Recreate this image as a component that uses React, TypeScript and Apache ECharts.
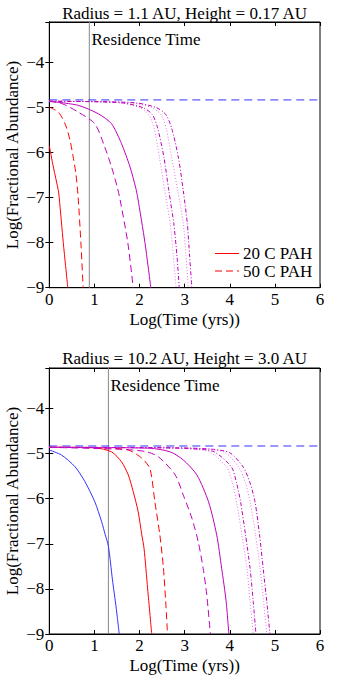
import React, { useEffect, useRef } from 'react';
import * as echarts from 'echarts';

// ---------- data ----------
const titles = ['Radius = 1.1 AU, Height = 0.17 AU', 'Radius = 10.2 AU, Height = 3.0 AU'];
const xLabel = 'Log(Time (yrs))';
const yLabel = 'Log(Fractional Abundance)';
const xRange = [0, 6];
const yRange = [-9, -3.1];
const residenceTime = [0.887, 1.31];
const initialAbundance = -4.83;
const legendNames = ['20 C PAH', '50 C PAH'];

// Panel 1: Radius = 1.1 AU
const p1RedSolid = [[0, -5.85], [0.09, -6.32], [0.2, -6.84], [0.22, -7], [0.31, -8], [0.41, -9]];
const p1RedDash = [[0, -4.99], [0.2, -5.1], [0.35, -5.36], [0.46, -5.73], [0.53, -6.1], [0.59, -6.47], [0.64, -7], [0.7, -8], [0.75, -9]];
const p1MagDash = [[0, -4.86], [0.3, -4.92], [0.64, -5.1], [1.01, -5.36], [1.23, -5.88], [1.38, -6.32], [1.51, -6.78], [1.57, -7.05], [1.74, -8], [1.86, -9]];
const p1MagSolid = [[0, -4.86], [0.64, -4.95], [1.09, -5.14], [1.38, -5.36], [1.6, -5.8], [1.79, -6.32], [1.92, -6.8], [1.96, -7], [2.12, -8], [2.25, -9]];
const p1DotA = [[0, -4.86], [1.0, -4.87], [1.6, -4.9], [2.0, -5.0], [2.2, -5.15], [2.32, -5.45], [2.44, -6.1], [2.56, -6.85], [2.68, -7.58], [2.75, -8.3], [2.81, -9]];
const p1DashDotB = [[0, -4.86], [1.0, -4.87], [1.65, -4.9], [2.07, -5.0], [2.28, -5.15], [2.4, -5.45], [2.54, -6.1], [2.65, -6.85], [2.76, -7.58], [2.83, -8.3], [2.88, -9]];
const p1DotC = [[0, -4.86], [1.2, -4.87], [1.85, -4.9], [2.27, -5.0], [2.47, -5.15], [2.59, -5.45], [2.71, -6.1], [2.85, -6.85], [2.97, -7.58], [3.03, -8.3], [3.08, -9]];
const p1DashDotD = [[0, -4.86], [1.2, -4.87], [1.95, -4.9], [2.37, -5.0], [2.58, -5.15], [2.71, -5.45], [2.86, -6.1], [2.97, -6.85], [3.06, -7.58], [3.11, -8.3], [3.16, -9]];

// Panel 2: Radius = 10.2 AU
const p2Blue = [[0, -4.92], [0.27, -5.03], [0.57, -5.29], [0.79, -5.62], [1.01, -6.07], [1.16, -6.51], [1.24, -6.8], [1.31, -7.05], [1.4, -7.8], [1.48, -8.4], [1.55, -9]];
const p2RedSolid = [[0, -4.86], [1.01, -4.87], [1.38, -4.96], [1.6, -5.18], [1.75, -5.47], [1.86, -5.84], [1.97, -6.29], [2.05, -6.8], [2.1, -7.1], [2.18, -8], [2.27, -9]];
const p2RedDash = [[0, -4.86], [1.2, -4.87], [1.75, -4.92], [2.05, -5.1], [2.23, -5.33], [2.34, -6.07], [2.45, -6.8], [2.53, -7.54], [2.58, -8.28], [2.62, -9]];
const p2MagDash = [[0, -4.86], [1.5, -4.9], [2.12, -4.95], [2.42, -5.07], [2.79, -5.47], [2.97, -5.92], [3.16, -6.43], [3.3, -6.95], [3.41, -7.54], [3.49, -8.13], [3.57, -9]];
const p2MagSolid = [[0, -4.86], [2.23, -4.88], [2.68, -4.96], [2.97, -5.14], [3.27, -5.47], [3.53, -6.07], [3.71, -6.8], [3.82, -7.54], [3.92, -8.28], [3.98, -9]];
const p2DotA = [[0, -4.86], [2.5, -4.87], [3.2, -4.9], [3.56, -4.96], [3.93, -5.3], [4.06, -5.65], [4.15, -6.07], [4.27, -6.8], [4.38, -7.54], [4.45, -8.28], [4.52, -9]];
const p2DashDotB = [[0, -4.86], [2.5, -4.87], [3.3, -4.9], [3.66, -4.96], [4.04, -5.3], [4.15, -5.65], [4.24, -6.07], [4.35, -6.8], [4.45, -7.54], [4.52, -8.28], [4.58, -9]];
const p2DotC = [[0, -4.86], [2.8, -4.87], [3.5, -4.9], [3.9, -4.98], [4.2, -5.3], [4.35, -5.65], [4.45, -6.07], [4.57, -6.8], [4.67, -7.54], [4.75, -8.28], [4.82, -9]];
const p2DashDotD = [[0, -4.86], [2.8, -4.87], [3.6, -4.9], [4.0, -4.98], [4.3, -5.3], [4.45, -5.65], [4.56, -6.07], [4.66, -6.8], [4.74, -7.54], [4.82, -8.28], [4.89, -9]];

// ---------- styles ----------
const FONT = '"Liberation Serif", "Times New Roman", serif';
const FS = 17;
const RED = '#ff0000';
const MAG = '#bf00bf';
const MAG_LIGHT = '#e07ae0';
const BLUE = '#3333ff';
const DASH = [7, 4];
const DOT = [1, 2];
const DASHDOT = [4, 2, 1, 2];

const grids = [
  { left: 49.3, right: 40, top: 22, height: 265.7 },
  { left: 49.3, right: 40, top: 368, height: 266 },
];

function line(name: string, data: number[][], color: string, type: any, gi: number, z = 3, smooth: any = 0.25) {
  return {
    name,
    type: 'line',
    data,
    xAxisIndex: gi * 2,
    yAxisIndex: gi * 2,
    showSymbol: false,
    symbol: 'none',
    smooth,
    clip: true,
    z,
    lineStyle: { color, width: 1, type },
    emphasis: { disabled: true },
  };
}

function axesFor(gi: number) {
  const fmt = (v: number) => (Number.isInteger(v) ? (v < 0 ? '\u2212' + Math.abs(v) : String(v)) : '');
  const common = {
    gridIndex: gi,
    type: 'value',
    axisLine: { show: true, lineStyle: { color: '#000', width: 1 } },
    axisTick: { show: true, inside: true, length: 4, lineStyle: { color: '#000', width: 1 } },
    splitLine: { show: false },
  };
  const x = [
    {
      ...common, position: 'bottom', min: xRange[0], max: xRange[1], interval: 1,
      axisLabel: { show: true, color: '#000', fontFamily: FONT, fontSize: FS, margin: 3, formatter: fmt },
      name: xLabel, nameLocation: 'middle', nameGap: 23,
      nameTextStyle: { color: '#000', fontFamily: FONT, fontSize: FS },
    },
    { ...common, position: 'top', min: xRange[0], max: xRange[1], interval: 1, axisLabel: { show: false } },
  ];
  const y = [
    {
      ...common, position: 'left', min: yRange[0], max: yRange[1], interval: 1,
      axisLabel: { show: true, color: '#000', fontFamily: FONT, fontSize: FS, margin: 5, formatter: fmt },
    },
    { ...common, position: 'right', min: yRange[0], max: yRange[1], interval: 1, axisLabel: { show: false } },
  ];
  return { x, y };
}

export default function App() {
  const ref = useRef<HTMLDivElement>(null);
  useEffect(() => {
    if (!ref.current) return;
    const chart = echarts.init(ref.current, undefined, { renderer: 'svg' });
    const a0 = axesFor(0);
    const a1 = axesFor(1);

    const series: any[] = [];
    for (let gi = 0; gi < 2; gi++) {
      series.push(line('Residence', [[residenceTime[gi], yRange[0]], [residenceTime[gi], yRange[1]]], '#888888', 'solid', gi, 2, false));
      series.push(line('Initial', [[xRange[0], initialAbundance], [xRange[1], initialAbundance]], BLUE, [8, 5], gi, 2, false));
    }
    series.push(
      line(legendNames[0], p1RedSolid, RED, 'solid', 0),
      line(legendNames[1], p1RedDash, RED, DASH, 0),
      line('m-dash', p1MagDash, MAG, DASH, 0),
      line('m-solid', p1MagSolid, MAG, 'solid', 0),
      line('m-dotA', p1DotA, MAG_LIGHT, DOT, 0),
      line('m-ddB', p1DashDotB, MAG, DASHDOT, 0),
      line('m-dotC', p1DotC, MAG_LIGHT, DOT, 0),
      line('m-ddD', p1DashDotD, MAG, DASHDOT, 0),
      line('blue', p2Blue, BLUE, 'solid', 1),
      line(legendNames[0] + ' ', p2RedSolid, RED, 'solid', 1),
      line(legendNames[1] + ' ', p2RedDash, RED, DASH, 1),
      line('m-dash2', p2MagDash, MAG, DASH, 1),
      line('m-solid2', p2MagSolid, MAG, 'solid', 1),
      line('m-dotA2', p2DotA, MAG_LIGHT, DOT, 1),
      line('m-ddB2', p2DashDotB, MAG, DASHDOT, 1),
      line('m-dotC2', p2DotC, MAG_LIGHT, DOT, 1),
      line('m-ddD2', p2DashDotD, MAG, DASHDOT, 1),
    );

    const txt = (text: string, x: number, y: number, align = 'center', rotation = 0) => ({
      type: 'text', x, y, rotation,
      style: { text, fill: '#000', font: `${FS}px ${FONT}`, textAlign: align, textVerticalAlign: 'middle' },
      z: 10,
    });

    chart.setOption({
      animation: false,
      backgroundColor: '#fff',
      grid: grids.map((g) => ({
        ...g, show: true, borderColor: '#000', borderWidth: 1, backgroundColor: 'transparent',
        containLabel: false, outerBoundsMode: 'none',
      })),
      xAxis: [...a0.x, ...a1.x],
      yAxis: [...a0.y, ...a1.y],
      series,
      graphic: [
        txt(titles[0], 184.6, 13),
        txt(titles[1], 184.6, 358.5),
        txt(yLabel, 12, 155, 'center', Math.PI / 2),
        txt(yLabel, 12, 501, 'center', Math.PI / 2),
        txt('Residence Time', 91.5, 39.5, 'left'),
        txt('Residence Time', 110.5, 385, 'left'),
        { type: 'line', shape: { x1: 215, y1: 253.5, x2: 239, y2: 253.5 }, style: { stroke: RED, lineWidth: 1 }, z: 10 },
        txt(legendNames[0], 243, 253.5, 'left'),
        { type: 'line', shape: { x1: 215, y1: 271, x2: 239, y2: 271 }, style: { stroke: RED, lineWidth: 1, lineDash: DASH }, z: 10 },
        txt(legendNames[1], 243, 271, 'left'),
      ],
    });
    return () => chart.dispose();
  }, []);
  return <div ref={ref} style={{ position: 'absolute', left: 0, top: 0, width: 360, height: 683 }} />;
}
